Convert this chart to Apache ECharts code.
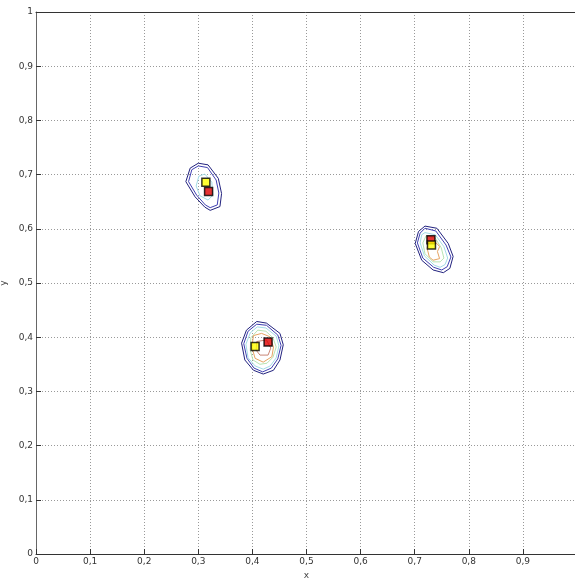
<!DOCTYPE html>
<html>
<head>
<meta charset="utf-8">
<script src="https://cdn.jsdelivr.net/npm/echarts@6/dist/echarts.min.js"></script>
<style>html,body{margin:0;padding:0;background:#fff;}#c{width:575px;height:579px;}</style>
</head>
<body>
<div id="c"></div>
<script>
// Tick labels
var xTickLabels = ['0','0,1','0,2','0,3','0,4','0,5','0,6','0,7','0,8','0,9','1'];
var yTickLabels = ['0','0,1','0,2','0,3','0,4','0,5','0,6','0,7','0,8','0,9','1'];

// Cluster 1 contours
var c1Navy = [[0.300,0.721],[0.318,0.718],[0.337,0.693],[0.343,0.665],[0.340,0.641],[0.322,0.634],[0.312,0.640],[0.294,0.659],[0.277,0.687],[0.285,0.712],[0.300,0.721]];
var c1Blue = [[0.300,0.716],[0.317,0.713],[0.333,0.690],[0.338,0.666],[0.335,0.644],[0.322,0.639],[0.313,0.644],[0.297,0.662],[0.282,0.687],[0.288,0.709],[0.300,0.716]];
var c1Cyan = [[0.301,0.697],[0.312,0.701],[0.325,0.686],[0.327,0.662],[0.318,0.653],[0.303,0.661],[0.296,0.679],[0.301,0.697]];

// Cluster 2 contours
var c2Navy = [[0.408,0.429],[0.426,0.426],[0.451,0.407],[0.457,0.386],[0.451,0.358],[0.439,0.339],[0.420,0.332],[0.402,0.339],[0.386,0.358],[0.380,0.389],[0.389,0.413],[0.408,0.429]];
var c2Blue = [[0.408,0.424],[0.426,0.422],[0.447,0.404],[0.453,0.385],[0.447,0.360],[0.435,0.343],[0.419,0.336],[0.403,0.343],[0.390,0.361],[0.384,0.388],[0.392,0.411],[0.408,0.424]];
var c2Cyan = [[0.409,0.419],[0.425,0.417],[0.444,0.402],[0.449,0.384],[0.444,0.362],[0.433,0.347],[0.420,0.341],[0.405,0.347],[0.392,0.362],[0.388,0.387],[0.396,0.408],[0.409,0.419]];
var c2Green = [[0.410,0.413],[0.425,0.411],[0.438,0.399],[0.444,0.382],[0.438,0.363],[0.427,0.352],[0.414,0.350],[0.401,0.358],[0.396,0.376],[0.397,0.399],[0.410,0.413]];
var c2Orange = [[0.402,0.403],[0.417,0.407],[0.432,0.401],[0.439,0.382],[0.436,0.364],[0.420,0.354],[0.405,0.361],[0.399,0.382],[0.402,0.403]];
var c2Red = [[0.408,0.392],[0.426,0.395],[0.434,0.380],[0.429,0.367],[0.414,0.367],[0.407,0.376],[0.408,0.392]];

// Cluster 3 contours
var c3Navy = [[0.719,0.605],[0.741,0.601],[0.762,0.573],[0.771,0.549],[0.765,0.527],[0.753,0.519],[0.734,0.524],[0.713,0.542],[0.701,0.573],[0.707,0.595],[0.719,0.605]];
var c3Blue = [[0.719,0.601],[0.739,0.596],[0.758,0.570],[0.767,0.548],[0.760,0.530],[0.750,0.524],[0.735,0.529],[0.715,0.546],[0.705,0.574],[0.710,0.592],[0.719,0.601]];
var c3Cyan = [[0.719,0.593],[0.738,0.589],[0.754,0.567],[0.761,0.546],[0.756,0.534],[0.747,0.529],[0.736,0.533],[0.718,0.550],[0.710,0.574],[0.713,0.589],[0.719,0.593]];
var c3Green = [[0.721,0.587],[0.738,0.583],[0.749,0.565],[0.754,0.546],[0.747,0.539],[0.734,0.539],[0.719,0.554],[0.715,0.574],[0.721,0.587]];
var c3Orange = [[0.725,0.576],[0.741,0.573],[0.746,0.567],[0.742,0.558],[0.746,0.545],[0.734,0.542],[0.727,0.548],[0.723,0.564],[0.725,0.576]];

// Markers
var redPoints = [[0.319,0.669],[0.429,0.391],[0.730,0.580]];
var yellowPoints = [[0.314,0.686],[0.405,0.383],[0.731,0.570]];

var NAVY = '#22227e', BLUE = '#3f3fb2', CYAN = '#a3dce6', GREEN = '#b8e4b2', ORANGE = '#e6a462', BROWN = '#c98676';

function contour(data, color, w) {
  return {type:'line', data:data, showSymbol:false, symbol:'none', silent:true, animation:false,
    lineStyle:{color:color, width:w||1}, z:2};
}

var chart = echarts.init(document.getElementById('c'), null, {renderer:'canvas'});
var labelStyle = {color:'#333', fontFamily:'DejaVu Sans', fontSize:9};
chart.setOption({
  animation:false,
  backgroundColor:'#fff',
  grid:{left:36, top:12, width:541, height:542, show:false, containLabel:false, outerBoundsMode:'none'},
  xAxis:[{type:'value', min:0, max:1, interval:0.1,
    name:'x', nameLocation:'middle', nameGap:14, nameTextStyle:{color:'#444', fontFamily:'DejaVu Sans', fontSize:9},
    axisLine:{show:true, lineStyle:{color:'#333', width:1}},
    axisTick:{show:true, inside:true, length:5, lineStyle:{color:'#333'}},
    axisLabel:Object.assign({margin:3, formatter:function(v){return xTickLabels[Math.round(v*10)];}, showMaxLabel:false}, labelStyle),
    splitLine:{show:true, lineStyle:{color:'#999', type:[1,2], width:1}}},
    {type:'value', position:'top', min:0, max:1, interval:0.1,
    axisLine:{show:true, onZero:false, lineStyle:{color:'#333', width:1}},
    axisTick:{show:false}, axisLabel:{show:false}, splitLine:{show:false}}],
  yAxis:{type:'value', min:0, max:1, interval:0.1,
    name:'y', nameLocation:'middle', nameGap:19, nameRotate:90, nameTextStyle:{color:'#444', fontFamily:'DejaVu Sans', fontSize:9},
    axisLine:{show:true, lineStyle:{color:'#666', width:1}},
    axisTick:{show:true, inside:true, length:5, lineStyle:{color:'#333'}},
    axisLabel:Object.assign({margin:3, formatter:function(v){return yTickLabels[Math.round(v*10)];}}, labelStyle),
    splitLine:{show:true, lineStyle:{color:'#999', type:[1,2], width:1}}},
  series:[
    contour(c1Navy, NAVY), contour(c1Blue, BLUE), contour(c1Cyan, CYAN),
    contour(c2Navy, NAVY), contour(c2Blue, BLUE), contour(c2Cyan, CYAN), contour(c2Green, GREEN), contour(c2Orange, ORANGE), contour(c2Red, BROWN),
    contour(c3Navy, NAVY), contour(c3Blue, BLUE), contour(c3Cyan, CYAN), contour(c3Green, GREEN), contour(c3Orange, ORANGE),
    {type:'scatter', data:redPoints, symbol:'rect', symbolSize:8, itemStyle:{color:'#e00000', borderColor:'#000', borderWidth:1.5}, z:5, animation:false},
    {type:'scatter', data:yellowPoints, symbol:'rect', symbolSize:8, itemStyle:{color:'#ffff00', borderColor:'#000', borderWidth:1.5}, z:6, animation:false}
  ]
});
</script>
</body>
</html>
